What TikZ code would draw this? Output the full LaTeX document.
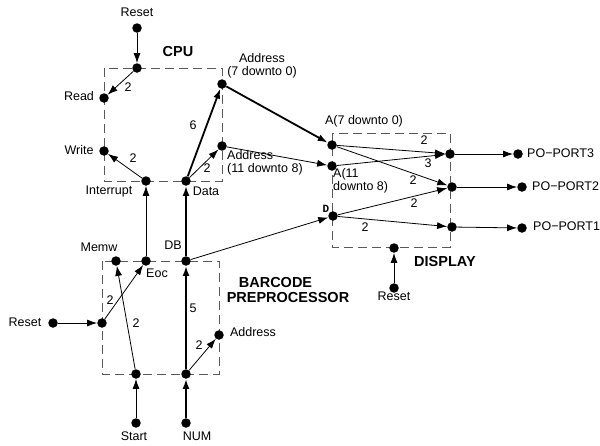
\documentclass[tikz,border=0pt]{standalone}
\usepackage{fontspec}
\setmainfont{Liberation Sans}
\newfontfamily\monof{Liberation Mono}
\usetikzlibrary{arrows.meta}
\begin{document}
\begin{tikzpicture}[x=1pt,y=-1pt,
  dot/.style={circle,fill=black,inner sep=0pt,minimum size=9.5pt},
  lbl/.style={inner sep=0pt,font=\fontsize{12.5}{13.5}\selectfont},
  ttl/.style={inner sep=0pt,font=\fontsize{14.5}{15.5}\selectfont\bfseries},
  num/.style={inner sep=0pt,font=\fontsize{12.5}{13.5}\selectfont},
  wire/.style={line width=0.8pt,-{Latex[length=10pt,width=7pt]}},
  bus/.style={line width=1.8pt,-{Latex[length=10pt,width=7pt]}},
  box/.style={draw=black!65,line width=0.9pt,dash pattern=on 9pt off 5pt}]
\useasboundingbox (0,0) rectangle (600,445);
% boxes
\draw[box] (104,68) rectangle (222,181);
\draw[box] (102,261) rectangle (219,374);
\draw[box] (332,133) rectangle (450,247);
% CPU
\node[dot] (rsrc) at (137,28) {};
\node[dot] (crst) at (137,68) {};
\node[dot] (read) at (104,98) {};
\node[dot] (write) at (104,151) {};
\node[dot] (intr) at (146,181) {};
\node[dot] (data) at (186,181) {};
\node[dot] (adlo) at (222,84) {};
\node[dot] (adhi) at (222,146) {};
% Barcode
\node[dot] (memw) at (116,261) {};
\node[dot] (eoc) at (146,261) {};
\node[dot] (db) at (186,261) {};
\node[dot] (brsrc) at (53,323) {};
\node[dot] (brst) at (102,323) {};
\node[dot] (badr) at (219,335) {};
\node[dot] (bstart) at (136,374) {};
\node[dot] (bnum) at (186,374) {};
\node[dot] (start) at (136,423) {};
\node[dot] (num) at (186,423) {};
% Display
\node[dot] (alo) at (332,145) {};
\node[dot] (ahi) at (332,166) {};
\node[dot] (dd) at (333,216) {};
\node[dot] (o3) at (450,154) {};
\node[dot] (o2) at (452,187) {};
\node[dot] (o1) at (452,227) {};
\node[dot] (p3) at (518,154) {};
\node[dot] (p2) at (522,187) {};
\node[dot] (p1) at (522,228) {};
\node[dot] (drst) at (394,248) {};
\node[dot] (drsrc) at (394,288) {};
% labels
\node[lbl] (t1) at (137,12) {Reset};
\node[ttl] (t2) at (178,52) {CPU};
\node[lbl] (t3) at (79,96) {Read};
\node[lbl] (t4) at (79,150) {Write};
\node[lbl] (t5) at (109,191) {Interrupt};
\node[lbl] (t6) at (206,191) {Data};
\node[lbl,align=center] (t7) at (262,66) {Address\\(7 downto 0)};
\node[lbl,align=left,anchor=west] (t8) at (227,163) {Address\\(11 downto 8)};
\node[lbl] (t9) at (364,121) {A(7 downto 0)};
\node[lbl,align=left,anchor=west] (t10) at (333,181) {A(11\\downto 8)};
\node[inner sep=0pt,font=\monof\fontsize{11}{12}\selectfont\bfseries] (t11) at (326,209) {D};
\node[lbl,anchor=west] (t12) at (527,153) {PO−PORT3};
\node[lbl,anchor=west] (t13) at (532,186) {PO−PORT2};
\node[lbl,anchor=west] (t14) at (533,226) {PO−PORT1};
\node[ttl] (t15) at (445,262) {DISPLAY};
\node[lbl] (t16) at (394,296) {Reset};
\node[lbl] (t17) at (99,247) {Memw};
\node[lbl] (t18) at (173,245) {DB};
\node[lbl] (t19) at (157,273) {Eoc};
\node[lbl] (t20) at (25,322) {Reset};
\node[lbl] (t21) at (253,332) {Address};
\node[lbl] (t22) at (134,436) {Start};
\node[lbl] (t23) at (197,436) {NUM};
\node[ttl,align=left] (t24) at (288,290) {\ \ \ BARCODE\\PREPROCESSOR};
% numbers
\node[num] (n1) at (128,87) {2};
\node[num] (n2) at (133,158) {2};
\node[num] (n3) at (193,125) {6};
\node[num] (n4) at (207,168) {2};
\node[num] (n5) at (424,140) {2};
\node[num] (n6) at (428,163) {3};
\node[num] (n7) at (413,180) {2};
\node[num] (n8) at (414,203) {2};
\node[num] (n9) at (365,227) {2};
\node[num] (n10) at (110,300) {2};
\node[num] (n11) at (136,323) {2};
\node[num] (n12) at (193,308) {5};
\node[num] (n13) at (199,345) {2};
% CPU wires
\draw[wire] (rsrc) -- (crst);
\draw[wire] (crst) -- (read);
\draw[wire] (intr) -- (write);
\draw[bus] (data) -- (adlo);
\draw[wire] (data) -- (adhi);
\draw[wire] (eoc) -- (intr);
\draw[bus] (db) -- (data);
\draw[bus] (adlo) -- (alo);
\draw[wire] (adhi) -- (ahi);
\draw[wire] (db) -- (dd);
% barcode wires
\draw[wire] (brsrc) -- (brst);
\draw[wire] (brst) -- (eoc);
\draw[wire] (bstart) -- (memw);
\draw[wire] (start) -- (bstart);
\draw[bus] (num) -- (bnum);
\draw[bus] (bnum) -- (db);
\draw[wire] (bnum) -- (badr);
% display wires
\draw[wire] (alo) -- (o3);
\draw[wire] (alo) -- (o2);
\draw[wire] (ahi) -- (o3);
\draw[wire] (dd) -- (o2);
\draw[wire] (dd) -- (o1);
\draw[wire] (o3) -- (p3);
\draw[wire] (o2) -- (p2);
\draw[wire] (o1) -- (p1);
\draw[wire] (drsrc) -- (drst);
\end{tikzpicture}
\end{document}
